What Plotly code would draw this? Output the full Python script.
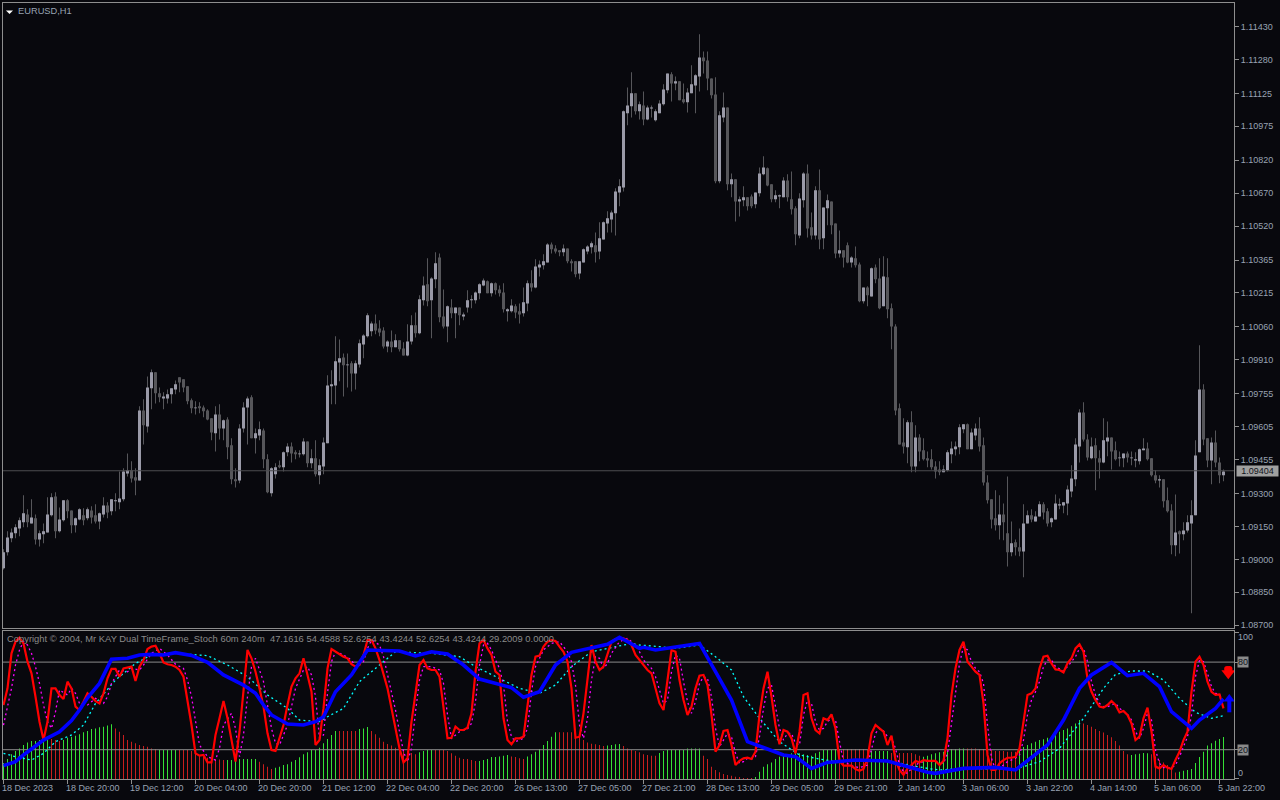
import plotly.graph_objects as go

# ---- price data, in 1/100000 units ----
open_pts = [
108959,109032,109096,109119,109141,109169,109205,109164,109187,109091,
109114,109123,109201,109287,109128,109178,109269,109223,109155,109182,
109201,109187,109223,109201,109173,109205,109246,109219,109265,109260,
109274,109392,109406,109374,109360,109679,109606,109780,109853,109757,
109734,109734,109753,109775,109830,109821,109789,109725,109689,109698,
109693,109679,109643,109575,109661,109597,109638,109520,109365,109360,
109597,109693,109739,109552,109565,109588,109456,109301,109388,109429,
109420,109488,109515,109488,109479,109479,109538,109438,109461,109383,
109424,109529,109789,109793,109898,109921,109885,109894,109848,109889,
109980,110017,110040,110076,110053,110044,109971,109994,109967,109999,
109962,109930,109994,110067,110031,110181,110254,110181,110277,110377,
110108,110062,110149,110122,110149,110108,110149,110181,110181,110213,
110249,110268,110213,110259,110231,110217,110131,110131,110154,110131,
110122,110167,110259,110240,110331,110341,110354,110436,110418,110409,
110400,110418,110359,110359,110304,110354,110404,110423,110432,110404,
110459,110532,110550,110578,110673,110696,111034,111066,111125,111043,
111070,111006,111056,111002,111034,111075,111139,111212,111170,111180,
111098,111084,111125,111161,111202,111289,111275,111193,111120,110724,
111015,111061,110710,110733,110632,110637,110651,110655,110619,110669,
110756,110783,110710,110642,110655,110651,110728,110642,110601,110477,
110637,110760,110514,110477,110683,110464,110601,110632,110532,110395,
110409,110432,110354,110373,110345,110177,110240,110199,110331,110281,
110154,110286,110145,110062,109689,109533,109511,109625,109424,109556,
109497,109461,109456,109424,109410,109397,109406,109479,109502,109511,
109593,109616,109502,109565,109597,109520,109351,109274,109187,109155,
109205,109119,109032,109078,109055,109036,109164,109201,109173,109196,
109251,109219,109169,109182,109246,109246,109255,109310,109365,109515,
109670,109547,109461,109520,109461,109442,109538,109556,109497,109461,
109461,109483,109461,109451,109447,109497,109506,109461,109383,109360,
109365,109269,109223,109064,109128,109114,109132,109164,109201,109488,
109775,109552,109451,109533,109442,109383]

high_pts = [
109046,109128,109141,109160,109191,109292,109228,109274,109205,109132,
109164,109283,109301,109306,109237,109269,109274,109223,109191,109233,
109233,109237,109242,109251,109214,109283,109260,109274,109301,109401,
109415,109483,109447,109415,109698,109730,109834,109866,109853,109784,
109762,109775,109780,109816,109830,109821,109789,109734,109721,109716,
109702,109684,109643,109698,109707,109638,109648,109552,109415,109616,
109716,109743,109748,109597,109629,109597,109479,109420,109438,109451,
109492,109529,109533,109497,109497,109552,109538,109502,109543,109456,
109556,109839,109862,110017,110003,109939,109939,109903,109907,110003,
110026,110122,110085,110117,110090,110058,109999,110044,110026,109999,
109990,110072,110113,110126,110204,110290,110373,110286,110400,110395,
110231,110158,110186,110149,110149,110126,110227,110204,110222,110259,
110281,110272,110263,110263,110249,110259,110145,110186,110163,110167,
110240,110272,110318,110368,110363,110391,110441,110445,110432,110409,
110436,110418,110368,110359,110359,110418,110432,110450,110491,110537,
110541,110587,110591,110692,110733,111047,111152,111221,111125,111088,
111134,111070,111070,111052,111093,111166,111216,111221,111202,111180,
111170,111148,111253,111212,111394,111316,111316,111193,111198,111043,
111129,111061,110760,110733,110655,110701,110651,110664,110673,110787,
110838,110787,110710,110683,110664,110742,110756,110769,110610,110669,
110765,110801,110582,110701,110778,110605,110664,110632,110532,110500,
110409,110445,110382,110427,110354,110240,110245,110331,110345,110373,
110382,110373,110167,110072,109711,109643,109634,109675,109611,109570,
109552,109492,109502,109447,109447,109429,109497,109538,109538,109616,
109616,109620,109597,109620,109648,109556,109383,109274,109315,109292,
109255,109378,109173,109091,109141,109251,109223,109228,109219,109265,
109260,109233,109191,109296,109278,109260,109337,109429,109552,109684,
109716,109570,109556,109552,109497,109643,109629,109556,109538,109492,
109483,109492,109492,109488,109506,109552,109533,109461,109406,109383,
109365,109328,109251,109296,109132,109169,109201,109269,109543,109976,
109798,109552,109556,109588,109465,109410]

low_pts = [
108954,109018,109078,109096,109105,109146,109146,109164,109068,109059,
109073,109123,109196,109096,109123,109173,109187,109119,109123,109178,
109155,109178,109164,109164,109137,109191,109187,109201,109219,109228,
109265,109378,109351,109292,109360,109524,109579,109684,109711,109716,
109684,109711,109711,109753,109762,109762,109707,109666,109661,109666,
109648,109634,109543,109492,109547,109543,109456,109342,109328,109347,
109579,109524,109552,109483,109543,109415,109301,109287,109369,109415,
109401,109470,109442,109456,109465,109474,109420,109415,109378,109342,
109388,109529,109707,109707,109812,109743,109784,109766,109775,109875,
109917,110012,110017,110026,110017,109962,109944,109944,109967,109948,
109930,109926,109980,110012,110026,110158,110154,110008,110236,110081,
110053,109990,110099,110008,110067,110090,110126,110145,110167,110186,
110245,110213,110199,110208,110199,110126,110085,110126,110099,110076,
110108,110131,110222,110236,110290,110322,110354,110395,110395,110382,
110382,110350,110313,110286,110277,110354,110391,110395,110354,110368,
110459,110491,110491,110477,110610,110678,110979,111015,111029,111006,
110979,111002,111015,110997,111034,111070,111125,111088,111139,111093,
111079,111038,111125,111034,111134,111216,111139,111102,110715,110715,
110993,110683,110651,110541,110564,110610,110591,110601,110601,110655,
110751,110701,110628,110628,110601,110651,110632,110573,110432,110464,
110605,110468,110459,110459,110414,110414,110523,110482,110373,110377,
110331,110350,110331,110331,110172,110167,110154,110199,110259,110140,
110154,110099,109958,109657,109524,109483,109438,109397,109397,109447,
109451,109420,109410,109369,109383,109397,109401,109438,109474,109479,
109575,109502,109502,109543,109492,109337,109255,109141,109132,109091,
109087,108968,109014,109018,109014,108918,109164,109169,109173,109196,
109182,109150,109146,109182,109228,109210,109201,109283,109333,109442,
109538,109451,109456,109315,109369,109438,109470,109410,109451,109424,
109420,109442,109429,109420,109433,109497,109451,109378,109347,109328,
109237,109214,109023,109014,109027,109087,109123,108754,109201,109488,
109520,109420,109342,109420,109347,109356]

close_pts = [
109032,109100,109123,109146,109178,109210,109169,109191,109091,109119,
109128,109205,109283,109128,109182,109269,109219,109155,109187,109228,
109178,109228,109191,109173,109210,109246,109214,109274,109269,109278,
109401,109406,109369,109360,109679,109611,109784,109853,109757,109739,
109743,109753,109780,109798,109807,109784,109721,109689,109693,109689,
109675,109638,109579,109661,109597,109634,109511,109365,109356,109597,
109693,109734,109552,109575,109593,109456,109306,109415,109420,109420,
109488,109515,109483,109479,109483,109538,109438,109461,109388,109429,
109533,109793,109798,109903,109917,109885,109889,109848,109894,109985,
110021,110113,110076,110044,110035,109971,109994,109967,109999,109958,
109930,109994,110067,110031,110186,110249,110177,110281,110350,110104,
110062,110154,110122,110149,110113,110117,110181,110186,110217,110254,
110272,110213,110259,110227,110213,110140,110140,110158,110126,110117,
110172,110259,110240,110336,110345,110359,110436,110414,110404,110400,
110418,110359,110350,110300,110359,110414,110427,110441,110400,110464,
110537,110555,110582,110678,110701,111043,111070,111125,111043,111075,
111006,111061,111061,111043,111079,111143,111216,111170,111180,111093,
111084,111129,111166,111207,111289,111271,111193,111116,110724,111025,
111061,110710,110733,110632,110642,110651,110610,110610,110673,110760,
110787,110705,110642,110660,110660,110728,110651,110596,110482,110646,
110760,110509,110477,110683,110459,110605,110637,110523,110395,110409,
110377,110354,110377,110341,110177,110240,110204,110327,110277,110145,
110290,110140,110062,109679,109524,109515,109625,109424,109556,109492,
109456,109451,109420,109401,109397,109410,109488,109506,109515,109602,
109616,109502,109579,109597,109515,109351,109269,109182,109155,109205,
109169,109032,109073,109055,109036,109164,109201,109182,109196,109251,
109214,109164,109187,109255,109251,109260,109319,109369,109524,109670,
109547,109465,109515,109461,109442,109543,109556,109492,109456,109465,
109483,109465,109465,109456,109502,109506,109456,109383,109360,109365,
109265,109219,109064,109123,109114,109132,109169,109201,109474,109775,
109547,109451,109533,109442,109383,109401]

# ---- fast stochastic (60m), one value per bar ----
stoch60_main = [
50.6,62,86,94,96.7,92.8,80.3,72.3,56.3,39.2,
26.6,39.2,62,62,57.5,54.7,66.6,62,49.5,47.2,
52.9,58.6,56.3,53.3,51.7,58.6,68.9,75.3,75.3,70,
75.7,76.2,76.9,67,76.9,81.4,89,90.6,91.2,86,
79.8,78.5,78,76.9,74.6,70,54,36.9,17.5,15.9,
16.4,11.3,11.3,30.1,41.5,53.3,41.5,27.8,11.8,32.3,
62,88.3,82.6,73.4,62,49.5,31.2,19.8,19.1,27.8,
36.9,50.6,63.2,68.9,72.3,82.6,71.2,59.7,23.2,26.6,
48.3,75.7,89,87.1,85.3,83.7,82.6,78.5,76.9,78,
84.9,95.1,95.1,89.4,81.4,71.2,62,48.3,34.6,20.9,
11.3,14.1,39.2,58.6,78,81.4,75.7,74.6,74.6,70,
50.6,27.8,28.2,35.8,33.5,33.5,35.1,44.9,73.4,92.8,
95.1,89.4,84.9,73.4,71.2,41.5,26.6,23.7,27.8,27.8,
28.9,50.6,71.2,83.7,84.4,90.6,94,95.1,94.4,90.6,
87.1,80.3,62,28.2,28.9,44.9,66.6,91.7,80.3,74.6,
76.9,86,94,95.8,96.3,96.3,95.1,91.7,84.9,81.4,
78,74.6,72.3,62,51.7,47.2,66.6,88.3,87.1,67.7,
54,43.8,49.5,62,70.7,71.2,64.3,43.8,18.6,23.2,
32.8,33.5,23.2,9.5,12.3,14.1,14.5,13.6,18.6,43.8,
62,73.4,56.3,36.9,23.7,33.5,32.3,27.8,17.5,32.3,
57.5,58.6,41.5,33.5,31.2,41.5,40.3,44.2,34.6,12.3,
9.1,9.1,9.1,6.8,5.6,6.8,14.1,31.2,36.9,34.6,
32.3,23.2,29.6,12.9,6.1,2.7,7.2,9.5,12.3,11.3,
12.9,12.3,12.3,12.3,9.5,12.3,27.8,57.5,75.7,88.3,
94,80.3,76.9,73.4,71.2,51.7,16.4,6.1,6.1,10.7,
12.9,14.5,14.5,15.2,20.9,39.2,57.5,58.6,62,75.7,
83.7,84.4,79.1,75,74.6,73,79.1,82.6,89.4,92.2,
87.1,68.9,59.7,54,49.5,48.8,50.6,53.3,50.6,45.6,
46.5,43.8,38,26.6,28.9,41.5,48.8,32.3,8.4,7.2,
9.5,7.7,6.8,12.9,18.6,26.6,32.3,59.7,80.3,83.7,
78,66.6,59.7,57.5,57.9,48.3]

# ---- signal of the fast stochastic, read at its corners ----
stoch60_signal_bar = [0,2,3,4,5,6,7,8,9,10,11,12,13,14,16,17,18,19,21,23,25,26,27,29,31,32,34,35,37,39,41,43,45,46,47,48,49,51,53,54,55,57,58,59,60,61,62,63,65,66,67,68,69,71,73,75,76,77,78,79,
80,81,82,83,85,87,88,90,91,92,94,95,96,97,98,99,100,101,102,103,104,105,107,109,110,111,112,114,116,117,118,119,120,121,122,123,124,125,126,127,128,130,131,132,133,135,137,139,141,142,143,144,145,146,147,148,149,150,151,152,154,156,158,159,
160,162,163,164,165,166,167,168,169,170,171,172,173,174,175,176,177,178,179,180,181,182,183,184,185,186,187,188,189,190,191,192,193,194,195,196,197,198,199,200,201,202,203,204,205,206,207,208,209,210,212,214,216,217,218,219,220,221,222,223,224,225,226,227,228,229,231,234,235,236,237,238,239,
240,241,242,243,244,245,246,247,248,249,251,253,254,255,256,257,258,259,260,261,262,263,265,266,268,269,270,271,272,273,274,275,276,277,278,279,280,281,282,283,284,285,286,287,288,289,290,292,293,294,295,296,297,298,299,300,301,302,303,304,305]
stoch60_signal = [36.9,62,78,88.3,94,91.7,86,76.9,65.4,50.6,39.2,34.6,46,60.9,57.5,62,58.6,51.7,50.6,55.2,51.7,56.3,65.4,74.6,73.4,75.7,74.6,78,86,89.4,84.9,78.5,75.7,67.7,56.3,39.2,23.2,15.2,12.9,20.9,36.9,44.9,34.6,15.2,30.1,56.3,76.9,82.6,66.6,50.6,34.6,24.4,23.2,36.9,62,74.6,76.9,71.2,56.3,27.8,
30.1,58.6,80.3,87.1,84.9,81.4,76.9,80.3,89.4,95.1,91.7,83.7,71.2,60.9,47.2,32.3,18.6,11.8,20.9,46,67.7,76.9,76.9,74.6,65.4,43.8,27.8,32.3,34.2,38,52.9,78,91.7,92.8,88.3,81.4,75.7,64.3,39.2,28.9,25.5,27.8,34.6,59.7,76.9,88.3,92.8,94,87.1,80.3,64.3,36.9,27.8,41.5,67.7,83.7,82.6,75.7,79.1,86,94,96.3,91.7,87.1,
81.4,75.7,70,60.9,51.7,54,73.4,84.9,82.6,66.6,52.9,44.9,52.9,65.4,70,68.9,56.3,34.6,22.1,26.6,31.2,28.9,17.5,10.7,11.8,14.1,13.6,15.2,28.9,48.3,62,64.3,50.6,34.6,26.6,31.2,31.2,24.4,23.2,43.8,54,51.7,39.2,33.5,34.6,39.2,41.5,40.3,25.5,11.8,9.1,7.7,9.5,20.9,31.2,34.6,32.8,28.9,27.8,20.9,9.5,4.9,3.8,7.2,9.5,11.3,12.3,11.3,10.7,17.5,39.2,60.9,79.1,
90.6,88.3,80.3,75.7,73.4,65.4,36.9,14.1,6.1,7.2,11.8,14.1,16.4,26.6,43.8,54,59.7,66.6,76.9,81.4,81.4,76.9,73.9,76.9,83.7,89.4,89.4,80.3,66.6,57.5,51.7,49.5,49.5,50.6,51.7,48.3,46,44.2,40.3,32.3,27.8,34.6,44.9,40.3,19.8,10.7,7.7,7.7,9.5,15.2,22.1,28.9,43.8,70,81.4,80.3,72.3,63.2,58.6,57.9,52.9]

# ---- slow stochastic (240m), read at its corners ----
stoch240_main_bar = [0,3,5,8,10,14,17,19,21,24,26,27,31,34,37,40,43,47,51,55,60,63,65,67,71,75,78,80,83,87,91,99,103,107,111,115,119,127,130,134,138,142,151,154,159,160,163,167,174,178,182,186,195,198,202,206,213,221,226,231,233,237,239,240,248,253,261,265,269,272,277,281,285,289,292,297,299,303,305]
stoch240_main = [9.1,11.8,16.4,22.5,26.6,32.3,39.9,47.2,55.6,65.4,75.7,81.9,82.6,84.9,85.3,84.9,86.5,84.6,79.8,71.2,64.3,58.6,50.6,43.8,37.6,36.9,39.2,42.6,59.7,71.2,88.3,87.6,84.2,87.1,85.5,78,68.4,62.5,55.9,59.7,78,86.7,92.2,97,89.4,90.1,88.3,89.9,92.8,73.4,54,25.5,16.4,15.2,7.2,11.3,12.9,12.3,8.4,4.5,3.8,6.1,6.8,7.2,7.9,6.1,23.2,40.3,62,71.2,79.8,70.7,72.3,63.2,46,34.6,40.3,48.3,54.7]
stoch240_signal_bar = [0,3,7,10,13,17,20,23,28,33,37,43,51,56,61,66,71,74,79,81,85,89,94,98,107,114,118,124,129,134,138,142,147,157,159,164,168,174,178,182,185,189,194,199,203,208,213,221,226,231,234,239,240,248,253,259,264,270,275,278,282,286,290,294,298,302,305]
stoch240_signal = [17.5,15.2,12.9,17.5,25.5,30.1,36.9,51.7,67.7,79.1,84.9,86,84.4,78,70,57.5,48.3,40.3,39.2,42.6,48.3,66.6,78,87.1,86,83.7,76.9,68.9,62,58.6,64.3,76.9,87.1,92.8,91.7,90.6,89.4,91.7,83.7,74.6,56.3,41.5,25.5,16.4,14.1,11.8,12.9,12.3,9.5,7.2,6.1,6.8,7.2,6.8,6.8,11.8,20.9,41.5,62,71.6,73.9,73.9,67.7,55.2,45.6,41.5,43.3]

# ---- histogram, one value per bar ----
hist_values = [
10.9,13.6,16.8,19.1,20.9,23.2,25,25.9,25.9,26.6,
26.6,27.8,27.3,26.6,25.9,26.6,28.2,28.9,29.6,30.5,
31.9,32.8,34.2,34.6,35.3,35.8,36.5,37.4,34.6,32.3,
30.1,26.6,25.5,24.4,23.2,22.5,22.1,20.9,20.5,19.8,
19.8,19.8,19.8,19.8,19.8,19.8,19.8,19.1,17.5,16.4,
15.2,14.5,14.1,13.6,13.2,12.9,12.9,12.9,13.6,13.6,
13.6,13.6,13.6,13.6,11.8,10,8.4,6.8,7.7,8.4,
9.5,10,11.8,12.9,14.8,16.8,18.2,19.8,19.8,21.4,
24.4,27.3,30.1,32.8,32.8,32.8,32.8,32.8,32.8,34.2,
34.6,35.5,32.8,30.5,28.2,25.5,23.9,22.8,21.4,20.5,
19.8,19.1,17.7,16.8,18.2,19.1,19.8,19.8,19.8,19.8,
19.8,19.1,17.5,15.9,14.5,13.6,13.6,12.9,12.3,12.3,
12.9,13.6,15,15,15.4,15.9,16.4,15.4,15,14.1,
13.6,15.4,16.8,18.6,20.5,23.2,25.9,28.9,31.9,31.9,
31.9,31.9,31.9,31.9,28.7,26.6,25,24.1,23.7,23.2,
22.5,22.8,23.2,23.7,23.9,22.5,20.9,19.8,19.1,18.2,
16.8,16.4,15.9,15.9,17.7,19.1,19.8,19.8,19.8,19.8,
19.8,20.9,20.9,20.9,20.9,15.9,13.6,8.4,6.1,4.5,
3.4,2.7,2.2,1.5,1.1,0.6,0.4,0.4,1.3,4.9,
8.4,10,11.3,13.6,15.2,15.9,16.4,17.5,17.5,17.5,
16.8,16.4,15.9,17.5,18.6,19.8,19.8,19.8,20.5,20.5,
20.5,20.5,20.5,20.5,20.5,20.5,19.8,19.1,19.1,19.1,
19.1,19.1,17.7,17.5,17.7,17.7,17.7,17.7,16.8,15.9,
15.2,15.9,16.8,17.5,18.2,18.6,19.1,20.5,20.5,20.9,
20.9,20.9,20.9,20.9,20.5,20.5,19.8,19.8,19.1,19.1,
19.1,18.6,18.6,18.6,20.9,21.8,23.2,24.4,25.5,26.6,
27.1,28.2,29.4,31.2,32.3,33.5,34.6,36,38,40.3,
38,36.9,35.8,34.2,32.8,31.7,30.1,28.5,25.9,22.8,
19.1,16.8,16.4,16.8,17.3,17.7,17.5,16.8,15.4,12.9,
11.3,9.5,7.2,4.3,4.9,5.6,6.1,6.8,10.9,15,
18.6,22.8,24.4,26.2,27.3,28.7]
falling_spans = [(12,14),(28,38),(44,55),(64,67),(84,88),(92,103),(108,118),(127,130),
                 (139,150),(155,163),(175,187),(209,216),(222,229),(241,253),(270,281),(287,293)]

price_ticks = ["1.11430","1.11280","1.11125","1.10975","1.10820","1.10670","1.10520","1.10365","1.10215",
               "1.10060","1.09910","1.09755","1.09605","1.09455","1.09300","1.09150","1.09000","1.08850","1.08700"]
date_labels = ["18 Dec 2023","18 Dec 20:00","19 Dec 12:00","20 Dec 04:00","20 Dec 20:00","21 Dec 12:00",
               "22 Dec 04:00","22 Dec 20:00","26 Dec 13:00","27 Dec 05:00","27 Dec 21:00","28 Dec 13:00",
               "29 Dec 05:00","29 Dec 21:00","2 Jan 14:00","3 Jan 06:00","3 Jan 22:00","4 Jan 14:00",
               "5 Jan 06:00","5 Jan 22:00"]
last_price = 1.09404
legend_text = ("Copyright © 2004, Mr KAY Dual TimeFrame_Stoch 60m 240m  47.1616 54.4588 52.6254 "
               "43.4244 52.6254 43.4244 29.2009 0.0000")

BG = "#08080d"
FRAME = "#8e8e8e"
LABEL = "#98a3b3"
UP = "#9a9aa8"
DOWN = "#56565a"
FONT = "Liberation Sans"

n = len(open_pts)
bars = list(range(n))
to_price = lambda seq: [v / 100000 for v in seq]
o, h, l, c = map(to_price, (open_pts, high_pts, low_pts, close_pts))

fig = go.Figure()
# wicks, one narrow bar from low to high
fig.add_trace(go.Bar(x=bars, y=[a - b for a, b in zip(h, l)], base=l, width=0.25,
                     marker=dict(color=DOWN, line=dict(width=0)), xaxis="x", yaxis="y"))
fig.add_trace(go.Candlestick(x=bars, open=o, high=h, low=l, close=c, whiskerwidth=0,
                             increasing=dict(fillcolor=UP, line=dict(color=UP, width=0)),
                             decreasing=dict(fillcolor=DOWN, line=dict(color=DOWN, width=0)),
                             xaxis="x", yaxis="y"))
fig.add_trace(go.Scatter(x=[-1, n + 2], y=[last_price] * 2, mode="lines",
                         line=dict(color="#4c4c50", width=1), xaxis="x", yaxis="y"))

falling = [any(a <= i <= b for a, b in falling_spans) for i in bars]
fig.add_trace(go.Bar(x=bars, y=hist_values, width=0.25,
                     marker=dict(color=["#c81e1e" if f else "#35e035" for f in falling], line=dict(width=0)),
                     xaxis="x2", yaxis="y2"))
for lvl in (80, 20):
    fig.add_trace(go.Scatter(x=[-1, n + 2], y=[lvl, lvl], mode="lines",
                             line=dict(color="#8c8c8c", width=1), xaxis="x2", yaxis="y2"))
fig.add_trace(go.Scatter(x=stoch240_signal_bar, y=stoch240_signal, mode="lines",
                         line=dict(color="#00ffff", width=1.3, dash="2px,3px"), xaxis="x2", yaxis="y2"))
fig.add_trace(go.Scatter(x=stoch60_signal_bar, y=stoch60_signal, mode="lines",
                         line=dict(color="#ff00ff", width=1.3, dash="2px,3px"), xaxis="x2", yaxis="y2"))
fig.add_trace(go.Scatter(x=bars, y=stoch60_main, mode="lines",
                         line=dict(color="#ff0000", width=2.2), xaxis="x2", yaxis="y2"))
fig.add_trace(go.Scatter(x=stoch240_main_bar, y=stoch240_main, mode="lines",
                         line=dict(color="#0000ff", width=3.6), xaxis="x2", yaxis="y2"))
# end-of-series arrows
fig.add_trace(go.Scatter(x=[306.2], y=[72.3], mode="markers",
                         marker=dict(symbol="triangle-down", size=12, color="#ff0000", line=dict(width=0)),
                         xaxis="x2", yaxis="y2"))
fig.add_trace(go.Scatter(x=[305.9, 306.5], y=[75.2, 75.2], mode="markers",
                         marker=dict(symbol="circle", size=6, color="#ff0000", line=dict(width=0)),
                         xaxis="x2", yaxis="y2"))
fig.add_trace(go.Scatter(x=[306.45, 306.45], y=[45.6, 54], mode="lines",
                         line=dict(color="#0000ff", width=4), xaxis="x2", yaxis="y2"))
fig.add_trace(go.Scatter(x=[306.45], y=[54.7], mode="markers",
                         marker=dict(symbol="triangle-up", size=10, color="#0000ff", line=dict(width=0)),
                         xaxis="x2", yaxis="y2"))

ann = []
ann.append(dict(xref="paper", yref="paper", x=0.0, y=1.0, xshift=13, yshift=-1, xanchor="left", yanchor="top",
                text="EURUSD,H1", showarrow=False, font=dict(family=FONT, size=9.3, color=LABEL)))
ann.append(dict(xref="paper", yref="y2", x=0.0, y=100, xshift=2, yshift=-6, xanchor="left", yanchor="middle",
                text=legend_text, showarrow=False, font=dict(family=FONT, size=9.4, color="#8a8a8a")))
for i, t in enumerate(date_labels):
    ann.append(dict(xref="x2", yref="paper", x=i * 16, y=0, xshift=-4, yshift=-2, xanchor="left", yanchor="top",
                    text=t, showarrow=False, font=dict(family=FONT, size=9, color=LABEL)))
ann.append(dict(xref="paper", yref="y", x=1.0, y=last_price, xshift=2, xanchor="left", yanchor="middle",
                text="1.09404", showarrow=False, bgcolor="#a0a0a0", width=41, height=10, borderpad=0,
                font=dict(family=FONT, size=9, color="#10141c")))
for lvl, txt, shift, box in [(100, "100", -4, False), (80, "80", 0, True), (20, "20", 0, True), (0, "0", 6, False)]:
    ann.append(dict(xref="paper", yref="y2", x=1.0, y=lvl, xshift=3, yshift=shift, xanchor="left",
                    yanchor="middle", text=txt, showarrow=False,
                    bgcolor="#8a8a8a" if box else None, borderpad=0,
                    font=dict(family=FONT, size=9, color="#10141c" if box else LABEL)))

# the small white menu triangle of the chart title
title_marker = dict(type="path", xref="paper", yref="paper", fillcolor="#ffffff", line=dict(width=0),
                    path="M 0.0024,0.9903 L 0.0081,0.9903 L 0.0053,0.9858 Z")

fig.update_layout(
    width=1280, height=800, showlegend=False, barmode="overlay", boxmode="overlay", boxgap=0.25, boxgroupgap=0,
    paper_bgcolor=BG, plot_bgcolor=BG, margin=dict(l=3, r=46, t=3, b=21), annotations=ann, shapes=[title_marker],
    xaxis=dict(domain=[0, 1], range=[-0.125, 307.625], anchor="y", showgrid=False, zeroline=False,
               showticklabels=False, ticks="", showline=True, mirror=True, linecolor=FRAME, linewidth=1,
               rangeslider=dict(visible=False)),
    yaxis=dict(domain=[0.19459, 1], range=[1.08687, 1.11537], side="right", anchor="x", showgrid=False,
               zeroline=False, tickmode="array", tickvals=[float(t) for t in price_ticks], ticktext=price_ticks,
               ticks="outside", ticklen=4, tickcolor=FRAME, tickfont=dict(family=FONT, size=9, color=LABEL),
               showline=True, mirror=True, linecolor=FRAME, linewidth=1),
    xaxis2=dict(domain=[0, 1], range=[-0.125, 307.625], anchor="y2", showgrid=False, zeroline=False,
                tickmode="array", tickvals=[i * 16 for i in range(len(date_labels))], ticktext=[""] * len(date_labels),
                ticks="outside", ticklen=4, tickcolor=FRAME,
                showline=True, mirror=True, linecolor=FRAME, linewidth=1),
    yaxis2=dict(domain=[0, 0.19072], range=[-0.07, 101.3], side="right", anchor="x2", showgrid=False, zeroline=False,
                tickmode="array", tickvals=[100, 80, 20, 0], ticktext=["", "", "", ""],
                ticks="outside", ticklen=4, tickcolor=FRAME,
                showline=True, mirror=True, linecolor=FRAME, linewidth=1),
)
fig.write_html("out.html", config=dict(displayModeBar=False),
               post_script="document.body.style.margin='0';document.body.style.background='#08080d';document.body.style.overflow='hidden';")
